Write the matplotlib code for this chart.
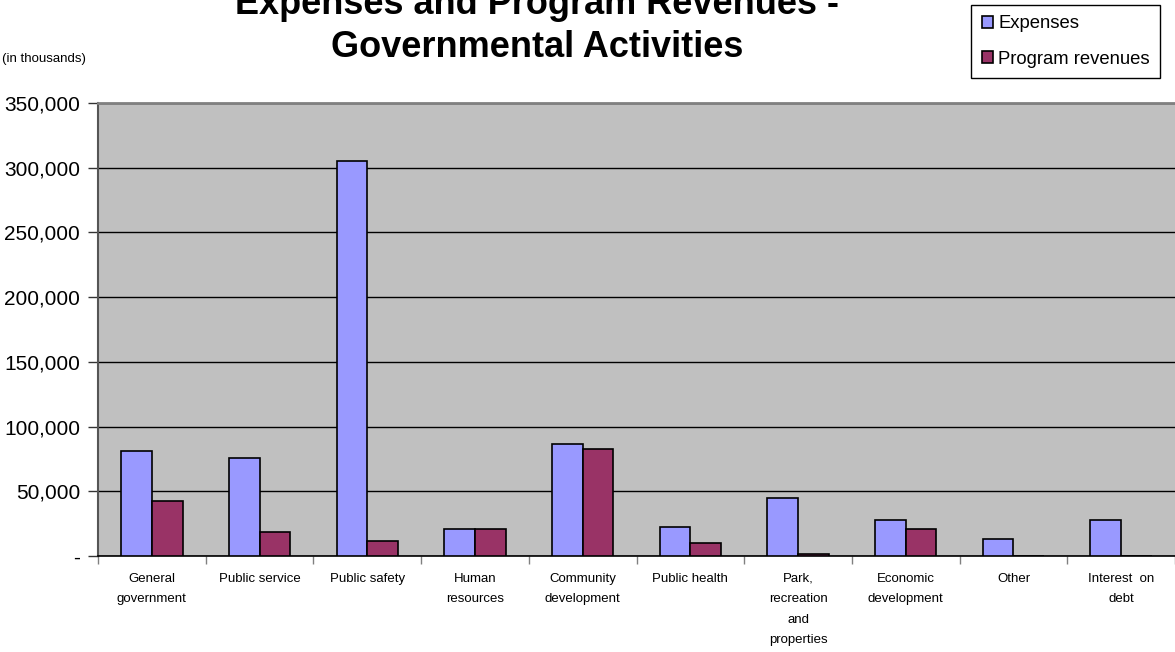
import numpy as np
import matplotlib
matplotlib.use("Agg")
import matplotlib.pyplot as plt

plt.rcParams['font.family'] = ['Liberation Sans', 'DejaVu Sans']

# data (in thousands)
categories = ["General\ngovernment", "Public service", "Public safety", "Human\nresources",
              "Community\ndevelopment", "Public health", "Park,\nrecreation\nand\nproperties",
              "Economic\ndevelopment", "Other", "Interest  on\ndebt"]
expenses = [81000, 75700, 305500, 21000, 86800, 22600, 45000, 27800, 13200, 28000]
program_revenues = [42500, 18500, 11800, 21000, 82500, 10300, 1500, 21000, 0, 0]
yticks = [0, 50000, 100000, 150000, 200000, 250000, 300000, 350000]
ytick_labels = ["-", "50,000", "100,000", "150,000", "200,000", "250,000", "300,000", "350,000"]

fig = plt.figure(figsize=(11.75, 6.52), dpi=100)
ax = fig.add_axes([98/1175, 96/652, 1077/1175, 453/652])
ax.set_facecolor('#C0C0C0')

x = np.arange(len(categories))
w = 0.285
ax.bar(x, expenses, width=-w, align='edge', color='#9999FF', edgecolor='black', linewidth=1.2,
       label='Expenses', zorder=3)
ax.bar(x, program_revenues, width=w, align='edge', color='#993366', edgecolor='black', linewidth=1.2,
       label='Program revenues', zorder=3)

ax.set_xlim(-0.5, len(categories) - 0.5)
ax.set_ylim(0, 350000)
ax.set_yticks(yticks)
ax.set_yticklabels(ytick_labels, fontsize=15)
ax.yaxis.grid(True, color='black', linewidth=1, zorder=1)
ax.tick_params(axis='y', length=7, width=1, color='#333333', pad=6)

ax.set_xticks(x)
ax.set_xticklabels(categories, fontsize=9.5, linespacing=1.95)
ax.tick_params(axis='x', which='major', length=0, pad=12)
ax.set_xticks(np.arange(-0.5, len(categories), 1), minor=True)
ax.tick_params(axis='x', which='minor', length=6, width=1, color='#808080')

ax.spines['top'].set_color('#808080')
ax.spines['top'].set_linewidth(2)
ax.spines['left'].set_color('#555555')
ax.spines['left'].set_linewidth(1.5)
ax.spines['bottom'].set_color('black')
ax.spines['bottom'].set_linewidth(1.2)
ax.spines['right'].set_visible(False)

fig.text(537/1175, 1 - 14/652, "Expenses and Program Revenues -", ha='center', va='baseline',
         fontsize=26, fontweight='bold')
fig.text(537/1175, 1 - 57/652, "Governmental Activities", ha='center', va='baseline',
         fontsize=26, fontweight='bold')
fig.text(2/1175, 1 - 59/652, "(in thousands)", ha='left', va='center', fontsize=9.5)

leg = fig.legend(loc='upper right', bbox_to_anchor=(1160/1175, 1 - 5/652), fontsize=13.3,
                 handlelength=0.6, handleheight=0.6, handletextpad=0.3, borderpad=0.55,
                 borderaxespad=0, labelspacing=1.0, fancybox=False, framealpha=1,
                 edgecolor='black')
leg.get_frame().set_linewidth(1)

fig.savefig("out.png", dpi=100)
